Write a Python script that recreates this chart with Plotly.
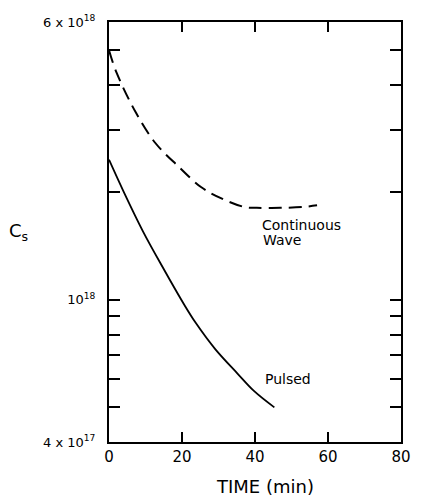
import math
import plotly.graph_objects as go

# Surface concentration vs. time for two laser modes
t_cw = [0, 2.1, 7.4, 12.7, 19.1, 25.2, 30.5, 37.1, 40.5, 46.9, 53.0, 57.0]
cs_cw = [5.0e18, 4.32e18, 3.34e18, 2.75e18, 2.36e18, 2.07e18, 1.93e18,
         1.82e18, 1.81e18, 1.81e18, 1.82e18, 1.84e18]

t_pulsed = [0, 4.0, 9.3, 14.6, 20.7, 23.8, 29.1, 35.2, 39.7, 45.3]
cs_pulsed = [2.47e18, 2.01e18, 1.556e18, 1.24e18, 0.966e18, 8.61e17, 7.28e17,
             6.22e17, 5.56e17, 5.0e17]

x_ticks = [0, 20, 40, 60, 80]
y_ticks = [4e17, 5e17, 6e17, 7e17, 8e17, 9e17, 1e18, 2e18, 3e18, 4e18, 5e18, 6e18]
y_ticktext = ["4 x 10<sup>17</sup>", "", "", "", "", "", "10<sup>18</sup>",
              "", "", "", "", "6 x 10<sup>18</sup>"]

FONT = "DejaVu Sans"

fig = go.Figure()
fig.add_trace(go.Scatter(x=t_cw, y=cs_cw, mode="lines",
                         line=dict(color="black", width=2, dash="13px,7px", shape="spline"),
                         showlegend=False))
fig.add_trace(go.Scatter(x=t_pulsed, y=cs_pulsed, mode="lines",
                         line=dict(color="black", width=1.8, shape="spline"),
                         showlegend=False))

fig.update_xaxes(range=[0, 80], tickvals=x_ticks, ticktext=[str(v) for v in x_ticks],
                 ticks="inside", ticklen=10, tickwidth=2, tickcolor="black",
                 showline=True, linecolor="black", linewidth=2, mirror="ticks",
                 showgrid=False, zeroline=False,
                 tickfont=dict(family=FONT, size=15, color="black"))
fig.update_yaxes(type="log", range=[math.log10(4e17), math.log10(6e18)],
                 tickvals=y_ticks, ticktext=y_ticktext,
                 ticks="inside", ticklen=11, tickwidth=2, tickcolor="black",
                 showline=True, linecolor="black", linewidth=2, mirror="ticks",
                 showgrid=False, zeroline=False, ticklabelstandoff=9,
                 tickfont=dict(family=FONT, size=13, color="black"))

fig.add_annotation(text="C<sub>s</sub>", xref="paper", yref="paper",
                   x=-0.31, y=0.50, showarrow=False, xanchor="center", yanchor="middle",
                   font=dict(family=FONT, size=18, color="black"))
fig.add_annotation(text="TIME (min)", xref="paper", yref="paper",
                   x=0.533, y=-0.107, showarrow=False, xanchor="center", yanchor="middle",
                   font=dict(family=FONT, size=18, color="black"))

label_font = dict(family=FONT, size=14, color="black")
fig.add_annotation(text="Continuous", x=41.3, y=math.log10(1.62e18),
                   showarrow=False, xanchor="left", yanchor="middle", font=label_font)
fig.add_annotation(text="Wave", x=41.6, y=math.log10(1.47e18),
                   showarrow=False, xanchor="left", yanchor="middle", font=label_font)
fig.add_annotation(text="Pulsed", x=42.1, y=math.log10(6.0e17),
                   showarrow=False, xanchor="left", yanchor="middle", font=label_font)

fig.update_layout(width=423, height=499,
                  margin=dict(l=109, r=12, t=22, b=57),
                  paper_bgcolor="white", plot_bgcolor="white")

fig.write_html("out.html")
